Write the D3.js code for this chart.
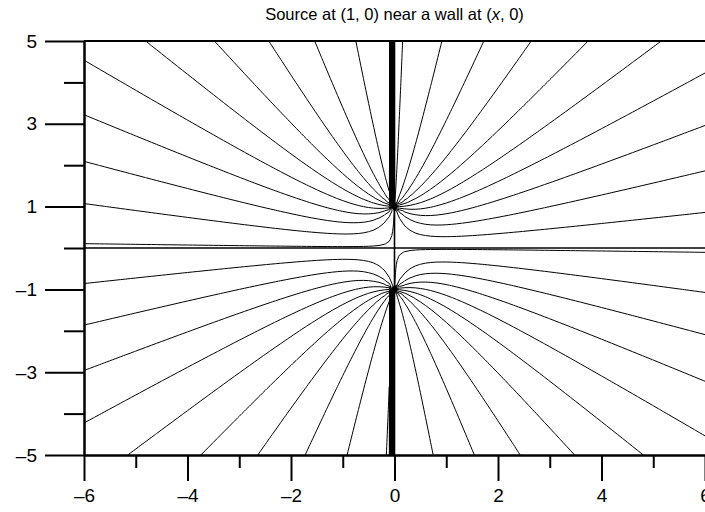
<!DOCTYPE html>
<html>
<head>
<meta charset="utf-8">
<script src="https://cdn.jsdelivr.net/npm/d3@7"></script>
<style>
  html, body { margin: 0; padding: 0; background: #fff; overflow: hidden; }
  text { font-family: "Liberation Sans", Arial, sans-serif; fill: #000; }
</style>
</head>
<body>
<svg id="chart" width="705" height="512"></svg>
<script>
// Point source and its mirror image across the wall y = 0
const sourceX = [0, 0];
const sourceY = [1, -1];

// Stream-function values of the drawn streamlines
const streamLevels = [
  -2.833, -2.522, -2.211, -1.900, -1.589, -1.278, -0.967, -0.656, -0.345, -0.034,
   0.277,  0.588,  0.899,  1.210,  1.521,  1.832,  2.143,  2.454,  2.765,  3.076
];

// Axis ticks
const xMajorTicks = [-6, -4, -2, 0, 2, 4, 6];
const xMinorTicks = [-5, -3, -1, 1, 3, 5];
const yMajorTicks = [-5, -3, -1, 1, 3, 5];
const yMinorTicks = [-4, -2, 0, 2, 4];

const xDomain = [-6, 6];
const yDomain = [-5, 5];

const margin = { left: 84, top: 41, right: 0, bottom: 57 };
const W = 705, H = 512;
const innerW = W - margin.left - margin.right;
const innerH = H - margin.top - margin.bottom;

const svg = d3.select("#chart");

const x = d3.scaleLinear().domain(xDomain).range([margin.left, margin.left + innerW]);
const y = d3.scaleLinear().domain(yDomain).range([margin.top + innerH, margin.top]);

// Stream function of the sources: sum of atan((y - ys) / (x - xs))
function psi(px, py) {
  let s = 0;
  for (let k = 0; k < sourceX.length; k++) {
    const t = Math.atan((py - sourceY[k]) / (px - sourceX[k]));
    s += Number.isNaN(t) ? 0 : t;
  }
  return s;
}

// Sample on a grid (10 samples per unit) reaching a little past the frame
const perUnit = 10, pad = 3;
const i0 = Math.round(xDomain[0] * perUnit) - pad;
const j0 = Math.round(yDomain[0] * perUnit) - pad;
const nx = Math.round((xDomain[1] - xDomain[0]) * perUnit) + 1 + 2 * pad;
const ny = Math.round((yDomain[1] - yDomain[0]) * perUnit) + 1 + 2 * pad;
const grid = new Float64Array(nx * ny);
for (let j = 0; j < ny; j++) {
  for (let i = 0; i < nx; i++) {
    grid[i + j * nx] = psi((i + i0) / perUnit, (j + j0) / perUnit);
  }
}

const contours = d3.contours().size([nx, ny]).thresholds(streamLevels)(grid);

const toScreen = d3.geoTransform({
  point(gx, gy) {
    this.stream.point(x((gx - 0.5 + i0) / perUnit), y((gy - 0.5 + j0) / perUnit));
  }
});
const path = d3.geoPath(toScreen);

svg.append("defs").append("clipPath").attr("id", "plot-clip")
  .append("rect")
  .attr("x", margin.left).attr("y", margin.top)
  .attr("width", innerW).attr("height", innerH);

const plot = svg.append("g").attr("clip-path", "url(#plot-clip)");

plot.selectAll("path.stream")
  .data(contours)
  .join("path")
  .attr("class", "stream")
  .attr("d", path)
  .attr("fill", "none")
  .attr("stroke", "#000")
  .attr("stroke-width", 1);

// Wall (y = 0) and the vertical line through the sources
plot.append("line")
  .attr("x1", x(xDomain[0])).attr("x2", x(xDomain[1]))
  .attr("y1", y(0)).attr("y2", y(0))
  .attr("stroke", "#000").attr("stroke-width", 1.6);
plot.append("line")
  .attr("x1", x(0)).attr("x2", x(0))
  .attr("y1", y(yDomain[0])).attr("y2", y(yDomain[1]))
  .attr("stroke", "#000").attr("stroke-width", 1.6);

// Source points
plot.selectAll("circle.source")
  .data(sourceX.map((sx, k) => [sx, sourceY[k]]))
  .join("circle")
  .attr("class", "source")
  .attr("cx", d => x(d[0]))
  .attr("cy", d => y(d[1]))
  .attr("r", 3)
  .attr("fill", "#000");

// Top frame line
svg.append("line")
  .attr("x1", margin.left).attr("x2", W)
  .attr("y1", y(yDomain[1])).attr("y2", y(yDomain[1]))
  .attr("stroke", "#000").attr("stroke-width", 2);

const fmt = v => (v < 0 ? "\u2013" : "") + Math.abs(v);

function styleAxis(g) {
  g.select(".domain").attr("stroke", "#000").attr("stroke-width", 2);
  g.selectAll(".tick line").attr("stroke", "#000").attr("stroke-width", 2);
  g.selectAll(".tick text").attr("font-size", 19).attr("fill", "#000")
    .attr("font-family", "Liberation Sans, Arial, sans-serif");
}

// Bottom axis
const xAxisG = svg.append("g").attr("transform", `translate(0,${y(yDomain[0])})`);
xAxisG.append("g")
  .call(d3.axisBottom(x).tickValues(xMinorTicks).tickSize(13).tickSizeOuter(0).tickFormat(""))
  .call(styleAxis);
xAxisG.append("g")
  .call(d3.axisBottom(x).tickValues(xMajorTicks).tickSize(26).tickSizeOuter(0).tickFormat(fmt).tickPadding(8))
  .call(styleAxis);

// Left axis
const yAxisG = svg.append("g").attr("transform", `translate(${x(xDomain[0])},0)`);
yAxisG.append("g")
  .call(d3.axisLeft(y).tickValues(yMinorTicks).tickSize(20).tickSizeOuter(0).tickFormat(""))
  .call(styleAxis);
yAxisG.append("g")
  .call(d3.axisLeft(y).tickValues(yMajorTicks).tickSize(39).tickSizeOuter(0).tickFormat(fmt).tickPadding(8))
  .call(styleAxis);

// Title
const title = svg.append("text")
  .attr("x", (margin.left + W) / 2)
  .attr("y", 20)
  .attr("text-anchor", "middle")
  .attr("font-size", 16.5);
title.append("tspan").text("Source at (1, 0) near a wall at (");
title.append("tspan").attr("font-style", "italic").text("x");
title.append("tspan").text(", 0)");
</script>
</body>
</html>
